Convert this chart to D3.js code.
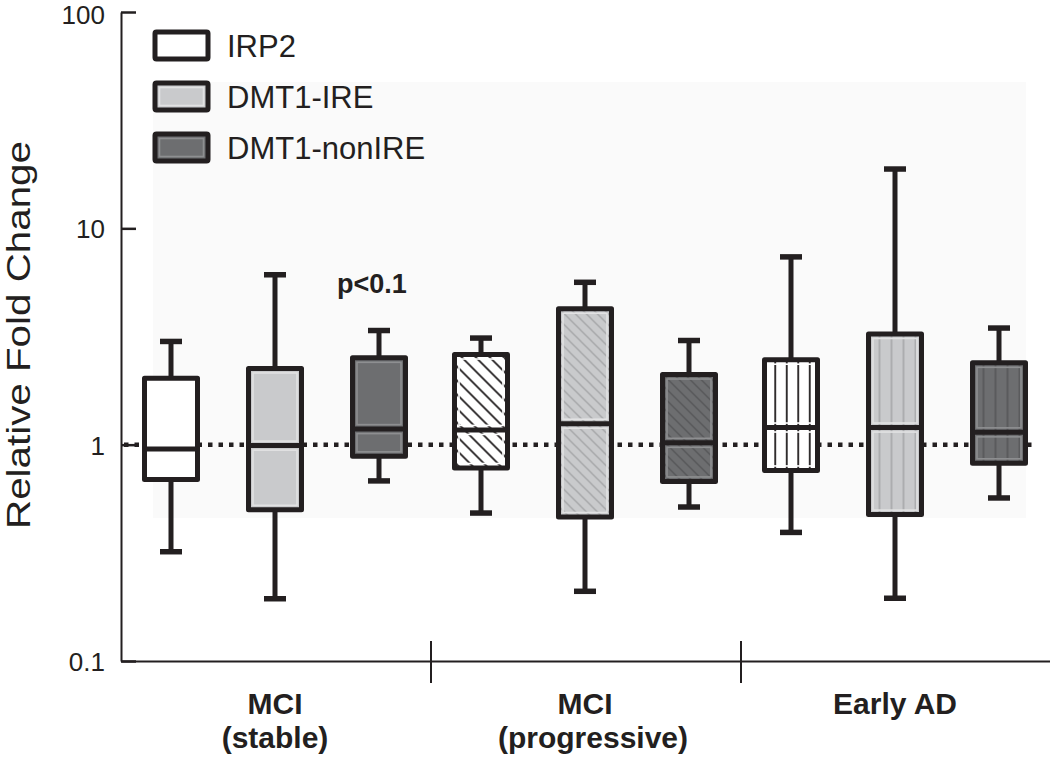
<!DOCTYPE html>
<html>
<head>
<meta charset="utf-8">
<script src="https://cdn.jsdelivr.net/npm/d3@7"></script>
<style>
  html, body { margin: 0; padding: 0; background: #fff; }
  svg { display: block; font-family: "Liberation Sans", Arial, sans-serif; }
</style>
</head>
<body>
<svg id="chart" width="1050" height="763"></svg>
<script>
// ---------------- DATA ----------------
const groups = ["MCI (stable)", "MCI (progressive)", "Early AD"];
const groupLabelLines = [["MCI", "(stable)"], ["MCI", "(progressive)"], ["Early AD"]];
const series = ["IRP2", "DMT1-IRE", "DMT1-nonIRE"];
// rows = groups, columns = series
const whiskerLow  = [[0.32, 0.194, 0.68], [0.483, 0.21, 0.515], [0.393, 0.195, 0.567]];
const q1          = [[0.69, 0.50, 0.883], [0.78, 0.463, 0.676], [0.76, 0.475, 0.82]];
const median      = [[0.955, 0.99, 1.18], [1.17, 1.25, 1.02], [1.20, 1.20, 1.14]];
const q3          = [[2.03, 2.25, 2.52], [2.61, 4.25, 2.11], [2.47, 3.25, 2.39]];
const whiskerHigh = [[3.0, 6.1, 3.37], [3.11, 5.63, 3.03], [7.38, 18.8, 3.46]];
const yTicks = [0.1, 1, 10, 100];
const yTickLabels = ["0.1", "1", "10", "100"];
const referenceValue = 1;
const annotationText = "p<0.1";
const annotationGroup = 0, annotationSeries = 2, annotationValue = 5.0;
const yTitle = "Relative Fold Change";

// ---------------- STYLE ----------------
const ink = "#231f20";
const fills = ["#ffffff", "#c9cacc", "#6d6e70"];
const rims = ["#ffffff", "#e2e2e3", "#8e8f91"];
const hatchInk = ["#231f20", "#a3a4a6", "#545557"];
const hatchType = ["none", "diag", "vert"]; // per group

const svg = d3.select("#chart");
const plotLeft = 121, plotRight = 1051, plotTop = 12, plotBottom = 661;

const y = d3.scaleLog().domain([0.1, 100]).range([plotBottom, plotTop]);
const xGroup = d3.scaleBand().domain(groups).range([plotLeft, plotRight]).padding(0);
const xSeries = d3.scalePoint().domain(series).range([50, 258]);
const boxW = 53;

// faint panel background
svg.append("rect").attr("x", 153).attr("y", 82).attr("width", 873).attr("height", 436)
  .attr("fill", "#fafafa");

// patterns
const defs = svg.append("defs");
function patternId(g, s) { return `pat-${g}-${s}`; }
groups.forEach((g, gi) => {
  series.forEach((s, si) => {
    if (hatchType[gi] === "none") return;
    const cx = xGroup(g) + xSeries(s);
    const left = cx - boxW / 2;
    if (hatchType[gi] === "diag") {
      const step = si === 0 ? 14 : 11;
      const p = defs.append("pattern").attr("id", patternId(gi, si))
        .attr("patternUnits", "userSpaceOnUse").attr("x", left).attr("y", 0)
        .attr("width", step).attr("height", step);
      p.append("rect").attr("width", step).attr("height", step).attr("fill", fills[si]);
      p.append("path")
        .attr("d", `M${-step/2},${step/2} L${step/2},${step*1.5} M0,0 L${step},${step} M${step/2},${-step/2} L${step*1.5},${step/2}`)
        .attr("stroke", hatchInk[si]).attr("stroke-width", si === 0 ? 1.8 : 1.3);
    } else {
      const step = si === 0 ? 11.5 : 12;
      const p = defs.append("pattern").attr("id", patternId(gi, si))
        .attr("patternUnits", "userSpaceOnUse").attr("x", left + 5).attr("y", 0)
        .attr("width", step).attr("height", 20);
      p.append("rect").attr("width", step).attr("height", 20).attr("fill", fills[si]);
      p.append("line").attr("x1", step / 2).attr("x2", step / 2).attr("y1", 0).attr("y2", 20)
        .attr("stroke", hatchInk[si]).attr("stroke-width", si === 0 ? 1.8 : 1.5);
    }
  });
});

// reference dotted line at 1
svg.append("line")
  .attr("x1", plotLeft + 3).attr("x2", 1034)
  .attr("y1", y(referenceValue)).attr("y2", y(referenceValue))
  .attr("stroke", ink).attr("stroke-width", 4.5).attr("stroke-dasharray", "4.5,6");

// y axis
const yAxis = d3.axisLeft(y).tickValues(yTicks)
  .tickFormat((d, i) => yTickLabels[i])
  .tickSizeInner(-15).tickSizeOuter(0).tickPadding(16);
const gy = svg.append("g").attr("transform", `translate(${plotLeft},0)`).call(yAxis);
gy.select(".domain").attr("stroke", ink).attr("stroke-width", 2);
gy.selectAll(".tick line").attr("stroke", ink).attr("stroke-width", 2.5);
gy.selectAll(".tick text").attr("fill", ink).attr("font-size", 26)
  .attr("font-family", "'Liberation Sans', Arial, sans-serif")
  .attr("dy", d => d === 100 ? "0.46em" : "0.36em");

// x axis
const xAxis = d3.axisBottom(xGroup).tickSize(0).tickFormat("");
const gx = svg.append("g").attr("transform", `translate(0,${plotBottom})`).call(xAxis);
gx.select(".domain").attr("stroke", ink).attr("stroke-width", 2);
// separators between groups
groups.slice(0, -1).forEach(g => {
  const xs = xGroup(g) + xGroup.bandwidth();
  svg.append("line").attr("x1", xs).attr("x2", xs)
    .attr("y1", plotBottom - 20).attr("y2", plotBottom + 22)
    .attr("stroke", ink).attr("stroke-width", 2);
});
// group labels
groups.forEach((g, gi) => {
  const t = svg.append("text")
    .attr("x", xGroup(g) + xSeries(series[1]))
    .attr("y", 714)
    .attr("text-anchor", "middle")
    .attr("font-weight", "bold").attr("font-size", 30).attr("fill", ink);
  groupLabelLines[gi].forEach((line, li) => {
    t.append("tspan").attr("x", xGroup(g) + xSeries(series[1]) + (li === 1 && gi === 1 ? 8 : 0))
      .attr("dy", li === 0 ? 0 : 34).text(line);
  });
});

// y title
svg.append("text")
  .attr("transform", `translate(30,335) rotate(-90)`)
  .attr("text-anchor", "middle")
  .attr("font-size", 33).attr("fill", ink)
  .attr("textLength", 388).attr("lengthAdjust", "spacingAndGlyphs")
  .text(yTitle);

// boxes
const capW = 22;
groups.forEach((g, gi) => {
  series.forEach((s, si) => {
    const cx = xGroup(g) + xSeries(s);
    const left = cx - boxW / 2;
    const yq3 = y(q3[gi][si]), yq1 = y(q1[gi][si]), ym = y(median[gi][si]);
    const yhi = y(whiskerHigh[gi][si]), ylo = y(whiskerLow[gi][si]);
    const bg = svg.append("g");
    // whiskers
    bg.append("line").attr("x1", cx).attr("x2", cx).attr("y1", yhi).attr("y2", yq3)
      .attr("stroke", ink).attr("stroke-width", 5);
    bg.append("line").attr("x1", cx).attr("x2", cx).attr("y1", yq1).attr("y2", ylo)
      .attr("stroke", ink).attr("stroke-width", 5);
    [yhi, ylo].forEach(yy => {
      bg.append("line").attr("x1", cx - capW / 2).attr("x2", cx + capW / 2)
        .attr("y1", yy).attr("y2", yy).attr("stroke", ink).attr("stroke-width", 5.5);
    });
    const fill = hatchType[gi] === "none" ? fills[si] : `url(#${patternId(gi, si)})`;
    bg.append("rect").attr("x", left).attr("y", yq3).attr("width", boxW).attr("height", yq1 - yq3)
      .attr("fill", fill);
    [[yq3, ym], [ym, yq1]].forEach(([a, b]) => {
      if (b - a > 10) {
        bg.append("rect").attr("x", left + 4.5).attr("y", a + 4.5)
          .attr("width", boxW - 9).attr("height", b - a - 9)
          .attr("fill", "none").attr("stroke", rims[si]).attr("stroke-width", 1.6);
      }
    });
    bg.append("rect").attr("x", left).attr("y", yq3).attr("width", boxW).attr("height", yq1 - yq3)
      .attr("fill", "none").attr("stroke", ink).attr("stroke-width", 5).attr("stroke-linejoin", "round");
    bg.append("line").attr("x1", left).attr("x2", left + boxW).attr("y1", ym).attr("y2", ym)
      .attr("stroke", ink).attr("stroke-width", 5);
  });
});

// annotation
svg.append("text")
  .attr("x", xGroup(groups[annotationGroup]) + xSeries(series[annotationSeries]) - 7)
  .attr("y", y(annotationValue))
  .attr("text-anchor", "middle")
  .attr("font-weight", "bold").attr("font-size", 27).attr("fill", ink)
  .text(annotationText);

// legend
const legend = svg.append("g");
series.forEach((s, si) => {
  const top = 32 + si * 51;
  legend.append("rect").attr("x", 155).attr("y", top).attr("width", 53).attr("height", 27)
    .attr("fill", fills[si]);
  legend.append("rect").attr("x", 159.5).attr("y", top + 4.5).attr("width", 44).attr("height", 18)
    .attr("fill", "none").attr("stroke", rims[si]).attr("stroke-width", 1.6);
  legend.append("rect").attr("x", 155).attr("y", top).attr("width", 53).attr("height", 27)
    .attr("fill", "none").attr("stroke", ink).attr("stroke-width", 5).attr("rx", 1.5);
  legend.append("text").attr("x", 227).attr("y", top + 25)
    .attr("font-size", 31).attr("fill", ink).text(s);
});
</script>
</body>
</html>
